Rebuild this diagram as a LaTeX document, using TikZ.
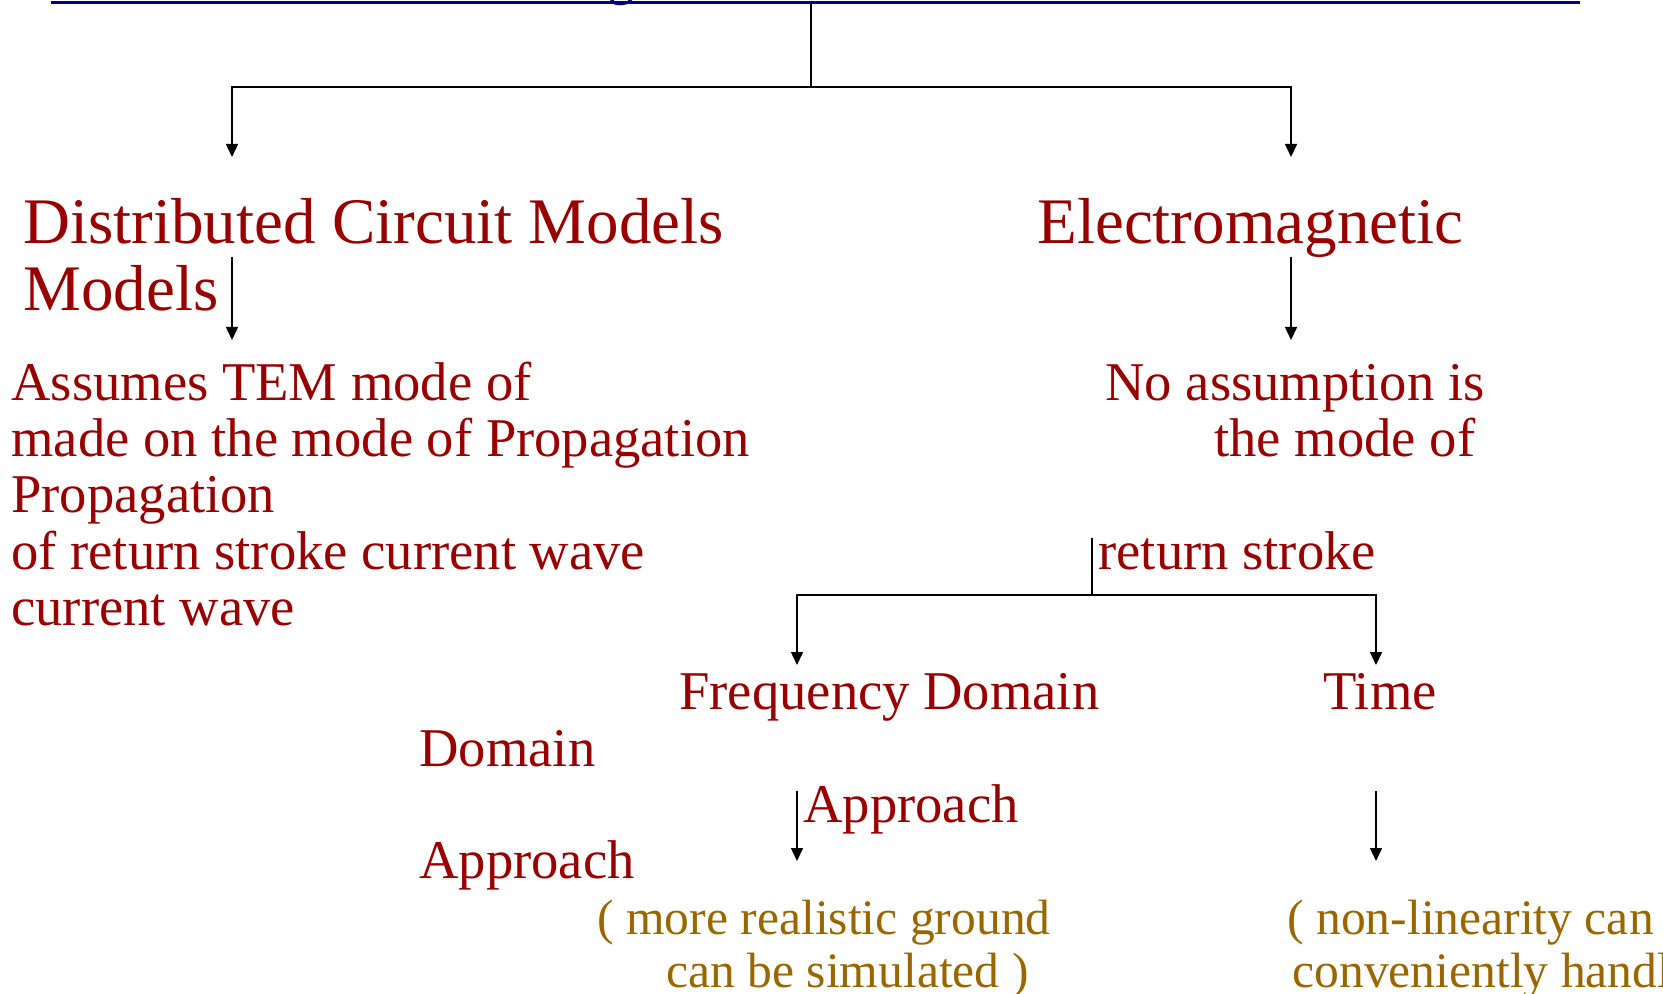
\documentclass[tikz,border=0pt]{standalone}
\usepackage{fontspec}
\setmainfont{Liberation Serif}
\usetikzlibrary{arrows.meta}
\definecolor{navyline}{RGB}{0,0,128}
\definecolor{darkred}{RGB}{153,0,0}
\definecolor{golden}{RGB}{153,102,0}

\begin{document}
\begin{tikzpicture}[
x=0.5pt, y=-0.5pt,
 head/.style = {anchor=base west, inner sep=0pt, text=darkred,% first level titles
                font=\fontsize{32.5}{34}\selectfont},
 body/.style = {anchor=base west, inner sep=0pt, text=darkred,% lower level texts
                font=\fontsize{27.3}{28}\selectfont},
 note/.style = {anchor=base west, inner sep=0pt, text=golden,
                font=\fontsize{24.8}{26}\selectfont},
 link/.style = {draw, line width=0.75pt},
  arr/.style = {link, -{Triangle[length=6.5pt,width=6pt]}},
                        ]
\useasboundingbox (0,0) rectangle (1663,994);
% title rule
\node[anchor=base west, inner sep=0pt, text=navyline,
      font=\fontsize{26}{28}\selectfont] (ttl) at (608,-5) {g};
\coordinate (rule-w) at (51,3);
\coordinate (rule-e) at (1580,3);
\coordinate (rule-c) at (811,3);
\draw[navyline, line width=1.5pt] (rule-w) -- (rule-e);
% first level
\node[head] (dcm)  at (23,244)   {Distributed Circuit Models};
\node[head] (dcm2) at (23,311)   {Models};
\node[head] (em)   at (1037,244) {Electromagnetic};
\coordinate (split)  at (811,87);
\coordinate (dcm-in) at (232,157);
\coordinate (em-in)  at (1291,157);
\draw[arr] (rule-c) -- (split) -| (dcm-in);
\draw[arr] (split) -| (em-in);
% second level
\foreach \t/\y [count=\i] in {Assumes TEM mode of/400,
        made on the mode of Propagation/456, Propagation/512,
        of return stroke current wave/569, current wave/625}% <-- lines of text
    \node[body] (tem\i) at (11,\y) {\t};
\node[body] (na1) at (1105,400) {No assumption is};
\node[body] (na2) at (1214,456) {the mode of};
\node[body] (rs)  at (1098,569) {return stroke};
\coordinate (dcm-out) at (232,257);
\coordinate (tem-in)  at (232,340);
\coordinate (em-out)  at (1291,257);
\coordinate (na-in)   at (1291,340);
\draw[arr] (dcm-out) -- (tem-in);
\draw[arr] (em-out) -- (na-in);
% third level
\node[body] (fd)  at (679,709)  {Frequency Domain};
\node[body] (tm)  at (1323,709) {Time};
\node[body] (fd2) at (419,766)  {Domain};
\node[body] (ap1) at (803,822)  {Approach};
\node[body] (ap2) at (419,878)  {Approach};
\coordinate (rs-out) at (1092,538);
\coordinate (split2) at (1092,595);
\coordinate (fd-in)  at (797,665);
\coordinate (tm-in)  at (1376,665);
\draw[arr] (rs-out) -- (split2) -| (fd-in);
\draw[arr] (split2) -| (tm-in);
% notes
\node[note] (nt1) at (597,934)  {( more realistic ground};
\node[note] (nt2) at (666,987)  {can be simulated )};
\node[note] (nt3) at (1287,934) {( non-linearity can be};
\node[note] (nt4) at (1292,987) {conveniently handled )};
\coordinate (fd-out) at (797,791);
\coordinate (nt1-in) at (797,861);
\coordinate (tm-out) at (1376,791);
\coordinate (nt3-in) at (1376,861);
\draw[arr] (fd-out) -- (nt1-in);
\draw[arr] (tm-out) -- (nt3-in);
\end{tikzpicture}
\end{document}
